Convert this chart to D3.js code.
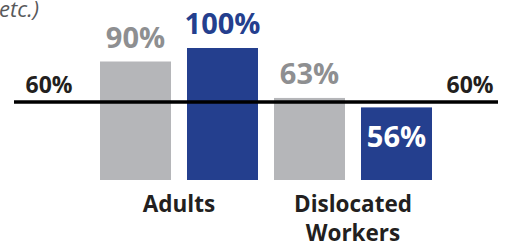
<html>
<script src='https://d3js.org/d3.v7.min.js'></script>
<style>
body { margin: 0; background: #fff; }
text { font-family: 'Open Sans', sans-serif; font-weight: bold; }
text.note { font-weight: normal; font-style: italic; }
</style>
<body>
<svg width=506 height=247></svg>
<script>
var groups = ["Adults", "Dislocated Workers"];
var series = ["gray", "blue"];
var adults = [90, 100];
var dislocated = [63, 56];
var target = 60;
var targetLabel = "60%";

var colors = {gray: "#b5b6b9", blue: "#243f8e"};
var labelColors = {gray: "#8e8f91", blue: "#243f8e"};

var data = [];
[adults, dislocated].forEach(function(vals, i) {
  vals.forEach(function(v, j) {
    data.push({group: groups[i], series: series[j], value: v});
  });
});

var svg = d3.select("svg");
var baseline = 180;

var y = d3.scaleLinear()
   .domain([0, 100])
   .range([183, 48]);

var x0 = d3.scaleBand()
   .domain(groups)
   .range([100, 432])
   .paddingInner(0.092);

var x1 = d3.scaleBand()
   .domain(series)
   .range([0, x0.bandwidth()])
   .paddingInner(0.184);

// cut-off note in top corner
svg.append("text")
   .attr("class", "note")
   .attr("x", 39).attr("y", 17)
   .attr("text-anchor", "end")
   .style("font-size", "22px")
   .attr("fill", "#58595b")
   .text("etc.)");

//bars
svg.selectAll(".bar")
   .data(data)
   .enter()
   .append("rect")
     .attr("class", "bar")
     .attr("x", function(d) { return x0(d.group) + x1(d.series); })
     .attr("y", function(d) { return y(d.value); })
     .attr("width", x1.bandwidth())
     .attr("height", function(d) { return baseline - y(d.value); })
     .attr("fill", function(d) { return colors[d.series]; });

// target line
svg.append("line")
   .attr("x1", 14).attr("x2", 498)
   .attr("y1", y(target)).attr("y2", y(target))
   .attr("stroke", "#000")
   .attr("stroke-width", 3.5);

svg.selectAll(".tlabel")
   .data([49, 470])
   .enter()
   .append("text")
     .attr("class", "tlabel")
     .attr("x", function(d) { return d; })
     .attr("y", y(target) - 9)
     .attr("text-anchor", "middle")
     .style("font-size", "23px")
     .attr("fill", "#231f20")
     .text(targetLabel);

// value labels: above the bar, or inside when below target
svg.selectAll(".vlabel")
   .data(data)
   .enter()
   .append("text")
     .attr("class", "vlabel")
     .attr("x", function(d) { return x0(d.group) + x1(d.series) + x1.bandwidth() / 2; })
     .attr("y", function(d) { return d.value < target ? y(d.value) + 40 : y(d.value) - 14; })
     .attr("text-anchor", "middle")
     .style("font-size", "29px")
     .attr("fill", function(d) { return d.value < target ? "#fff" : labelColors[d.series]; })
     .text(function(d) { return d.value + "%"; });

// category labels
var cat = svg.selectAll(".cat")
   .data(groups)
   .enter()
   .append("text")
     .attr("class", "cat")
     .attr("y", 212)
     .attr("text-anchor", "middle")
     .style("font-size", "22.5px")
     .attr("fill", "#231f20");

cat.selectAll("tspan")
   .data(function(d) { return d.split(" ").map(function(w) { return {g: d, w: w}; }); })
   .enter()
   .append("tspan")
     .attr("x", function(d) { return x0(d.g) + x0.bandwidth() / 2; })
     .attr("dy", function(d, i) { return i ? 28.5 : 0; })
     .text(function(d) { return d.w; });
</script>
</body>
</html>
